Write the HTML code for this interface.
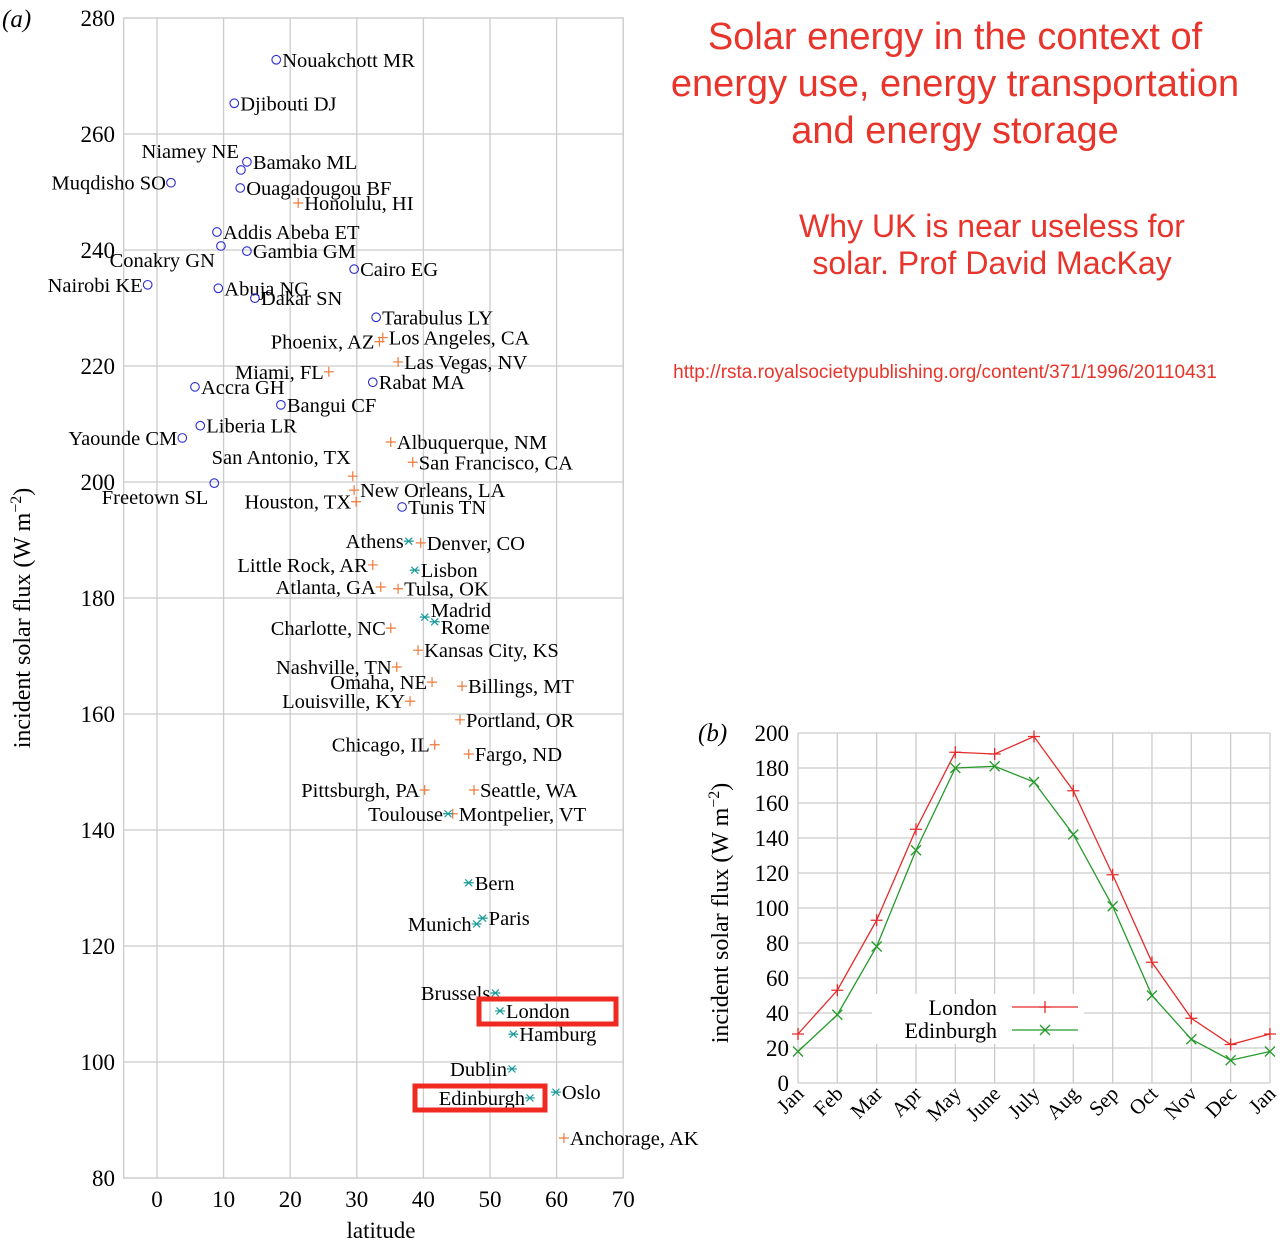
<!DOCTYPE html>
<html><head><meta charset="utf-8">
<style>
body{margin:0;background:#fff;width:1280px;height:1244px;overflow:hidden;font-family:"Liberation Serif",serif;}
svg{position:absolute;left:0;top:0;}
.t{fill:#e8342a;font-family:"Liberation Sans",sans-serif;text-anchor:middle;}
</style></head><body>
<svg id="s" width="1280" height="1244">
<text class="t" x="955" y="49" font-size="38">Solar energy in the context of</text>
<text class="t" x="955" y="96" font-size="38">energy use, energy transportation</text>
<text class="t" x="955" y="143" font-size="38">and energy storage</text>
<text class="t" x="992" y="237" font-size="32">Why UK is near useless for</text>
<text class="t" x="992" y="274" font-size="32">solar. Prof David MacKay</text>
<text class="t" x="945" y="378" font-size="19">http://rsta.royalsocietypublishing.org/content/371/1996/20110431</text>
</svg>
<script>
// ---- chart (a) data ----
const cityNames=["Nouakchott MR","Djibouti DJ","Bamako ML","Niamey NE","Muqdisho SO","Ouagadougou BF","Addis Abeba ET","Conakry GN","Gambia GM","Cairo EG","Nairobi KE","Abuja NG","Dakar SN","Tarabulus LY","Rabat MA","Accra GH","Bangui CF","Liberia LR","Yaounde CM","Freetown SL","Tunis TN",
"Honolulu, HI","Phoenix, AZ","Los Angeles, CA","Las Vegas, NV","Miami, FL","Albuquerque, NM","San Francisco, CA","San Antonio, TX","New Orleans, LA","Houston, TX","Denver, CO","Little Rock, AR","Atlanta, GA","Tulsa, OK","Charlotte, NC","Kansas City, KS","Nashville, TN","Omaha, NE","Billings, MT","Louisville, KY","Portland, OR","Chicago, IL","Fargo, ND","Pittsburgh, PA","Seattle, WA","Montpelier, VT","Anchorage, AK",
"Athens","Lisbon","Madrid","Rome","Toulouse","Bern","Paris","Munich","Brussels","London","Hamburg","Dublin","Oslo","Edinburgh"];
const cityLat=[17.9,11.6,13.5,12.6,2.1,12.5,9.0,9.6,13.5,29.6,-1.4,9.2,14.7,32.9,32.4,5.7,18.6,6.5,3.8,8.6,36.8,
21.2,33.4,33.9,36.2,25.8,35.1,38.4,29.4,29.6,29.9,39.6,32.4,33.6,36.2,35.1,39.2,36.0,41.3,45.8,38.0,45.5,41.7,46.8,40.2,47.6,44.4,61.1,
37.8,38.7,40.2,41.7,43.7,46.8,48.9,48.0,50.8,51.5,53.5,53.3,59.9,56.0];
const cityFlux=[272.8,265.3,255.2,253.8,251.6,250.7,243.1,240.7,239.8,236.7,234.0,233.4,231.7,228.4,217.2,216.4,213.3,209.7,207.6,199.8,195.7,
248.1,224.2,224.9,220.7,219.0,206.9,203.4,201.0,198.6,196.6,189.5,185.7,181.9,181.6,174.8,171.0,168.1,165.5,164.8,162.2,159.0,154.7,153.1,146.9,146.9,142.8,86.9,
189.8,184.8,176.7,175.9,142.8,130.9,124.8,123.8,111.9,108.8,104.8,98.8,94.8,93.8];
const cityRegion="aaaaaaaaaaaaaaaaaaaaauuuuuuuuuuuuuuuuuuuuuuuuuuueeeeeeeeeeeeee";
// label placement: l = left, r = right, lu = left & up, ld = left & down, ru = right & up, rd = right & down
const cityLabelSide=["r","r","r","lu","l","r","r","ld","r","r","l","r","r","r","r","r","r","r","l","ld","r",
"r","l","r","r","l","r","r","lu","r","l","r","l","l","r","l","r","l","l","r","l","r","l","r","l","r","r","r",
"l","r","ru","rd","l","r","r","l","l","r","r","l","r","l"];
const xTicksA=[0,10,20,30,40,50,60,70];
const yTicksA=[80,100,120,140,160,180,200,220,240,260,280];
// ---- chart (b) data ----
const months=["Jan","Feb","Mar","Apr","May","June","July","Aug","Sep","Oct","Nov","Dec","Jan"];
const londonFlux=[28,53,93,145,189,188,198,167,119,69,37,22,28];
const edinburghFlux=[18,39,78,133,180,181,172,142,101,50,25,13,18];
const yTicksB=[0,20,40,60,80,100,120,140,160,180,200];

const NS="http://www.w3.org/2000/svg";
const svg=document.getElementById('s');
function el(tag,attrs,parent){const e=document.createElementNS(NS,tag);for(const k in attrs)e.setAttribute(k,attrs[k]);(parent||svg).appendChild(e);return e;}

const ax=v=>157+(v)*6.66, ay=v=>18+(280-v)*5.8;
const gA=el('g',{});


el('rect',{x:ax(-5),y:ay(280),width:ax(70)-ax(-5),height:ay(80)-ay(280),fill:'none',stroke:'#ccc','stroke-width':1.3},gA);
xTicksA.forEach(t=>{
  const l=el('line',{x1:ax(t),x2:ax(t),y1:ay(280),y2:ay(80),stroke:'#ccc','stroke-width':1.3},gA);
  
  
  const tx=el('text',{x:ax(t),y:1207,'font-size':23,'text-anchor':'middle'},gA);tx.textContent=t;
  
  
});
yTicksA.forEach(t=>{
  const l=el('line',{x1:ax(-5),x2:ax(70),y1:ay(t),y2:ay(t),stroke:'#ccc','stroke-width':1.3},gA);
  
  
  const tx=el('text',{x:115,y:ay(t)+8,'font-size':23,'text-anchor':'end'},gA);tx.textContent=t;
  
  
});
let tt=el('text',{x:381,y:1238,'font-size':23,'text-anchor':'middle'},gA);tt.textContent='latitude';


tt=el('text',{x:0,y:0,'font-size':24,'text-anchor':'middle',transform:'translate(30,618) rotate(-90)'},gA);
tt.innerHTML='incident solar flux (W m<tspan dy="-9" font-size="16">−2</tspan><tspan dy="9">)</tspan>';


tt=el('text',{x:2,y:27,'font-size':25,'font-style':'italic'},gA);tt.textContent='(a)';



cityNames.forEach((n,i)=>{
  const x=ax(cityLat[i]),y=ay(cityFlux[i]),r=cityRegion[i];
  const g=el('g',{},gA);
  
  
  if(r==='a') el('circle',{cx:x,cy:y,r:4.3,fill:'none',stroke:'#2b2bd0','stroke-width':1.1},g);
  else if(r==='u'){el('path',{d:`M${x-5},${y}H${x+5}M${x},${y-5}V${y+5}`,stroke:'#ef7a3a','stroke-width':1.2},g);}
  else {el('path',{d:`M${x-5},${y}H${x+5}M${x-3.5},${y-3.5}L${x+3.5},${y+3.5}M${x-3.5},${y+3.5}L${x+3.5},${y-3.5}`,stroke:'#1a9a9a','stroke-width':1.2},g);}
  const s=cityLabelSide[i];let lx=x+6,ly=y+7,anc='start';
  if(s==='l'){lx=x-5;anc='end';}
  if(s==='lu'){lx=x-2;ly=y-12;anc='end';}
  if(s==='ld'){lx=x-6;ly=y+21;anc='end';}
  if(s==='ru'){ly=y;}
  if(s==='rd'){ly=y+12;}
  const t=el('text',{x:lx,y:ly,'font-size':20.5,'text-anchor':anc},g);t.textContent=n;
});
let bx=el('rect',{x:479,y:999,width:137,height:25,fill:'none',stroke:'#f02a20','stroke-width':5},gA);


bx=el('rect',{x:415,y:1086,width:130,height:24,fill:'none',stroke:'#f02a20','stroke-width':5},gA);



// chart B
const bxs=i=>798+i*39.33, bys=v=>1083-v*1.75;
const gB=el('g',{});


months.forEach((m,i)=>{
  const l=el('line',{x1:bxs(i),x2:bxs(i),y1:bys(200),y2:bys(0),stroke:'#ccc','stroke-width':1.3},gB);
  
  
  const t=el('text',{x:0,y:0,'font-size':21,'text-anchor':'end',transform:`translate(${bxs(i)+7},${1095}) rotate(-45)`},gB);t.textContent=m;
  
  
});
yTicksB.forEach(v=>{
  const l=el('line',{x1:bxs(0),x2:bxs(12),y1:bys(v),y2:bys(v),stroke:'#ccc','stroke-width':1.3},gB);
  
  
  const t=el('text',{x:789,y:bys(v)+8,'font-size':23,'text-anchor':'end'},gB);t.textContent=v;
  
  
});
tt=el('text',{x:0,y:0,'font-size':24,'text-anchor':'middle',transform:'translate(728,913) rotate(-90)'},gB);
tt.innerHTML='incident solar flux (W m<tspan dy="-9" font-size="16">−2</tspan><tspan dy="9">)</tspan>';


tt=el('text',{x:698,y:741,'font-size':25,'font-style':'italic'},gB);tt.textContent='(b)';


function series(vals,col,mk,name){
  const g=el('g',{},gB);
  
  
  el('polyline',{points:vals.map((v,i)=>bxs(i)+','+bys(v)).join(' '),fill:'none',stroke:col,'stroke-width':1.3},g);
  vals.forEach((v,i)=>marker(g,bxs(i),bys(v),col,mk));
}
function marker(g,x,y,col,mk){
  const d=mk==='+'?`M${x-6},${y}H${x+6}M${x},${y-6}V${y+6}`:`M${x-5},${y-5}L${x+5},${y+5}M${x-5},${y+5}L${x+5},${y-5}`;
  el('path',{d,stroke:col,'stroke-width':1.3},g);
}
series(londonFlux,'#e52b2b','+','london-series');
series(edinburghFlux,'#259a2b','x','edinburgh-series');
const lg=el('g',{},gB);


el('rect',{x:872,y:994,width:212,height:50,fill:'#fff'},lg);
[['London','#e52b2b','+',1007],['Edinburgh','#259a2b','x',1030]].forEach(a=>{
  const t=el('text',{x:997,y:a[3]+8,'font-size':22,'text-anchor':'end'},lg);t.textContent=a[0];
  el('line',{x1:1012,x2:1078,y1:a[3],y2:a[3],stroke:a[1],'stroke-width':1.3},lg);
  marker(lg,1045,a[3],a[1],a[2]);
});
</script>
</body></html>
